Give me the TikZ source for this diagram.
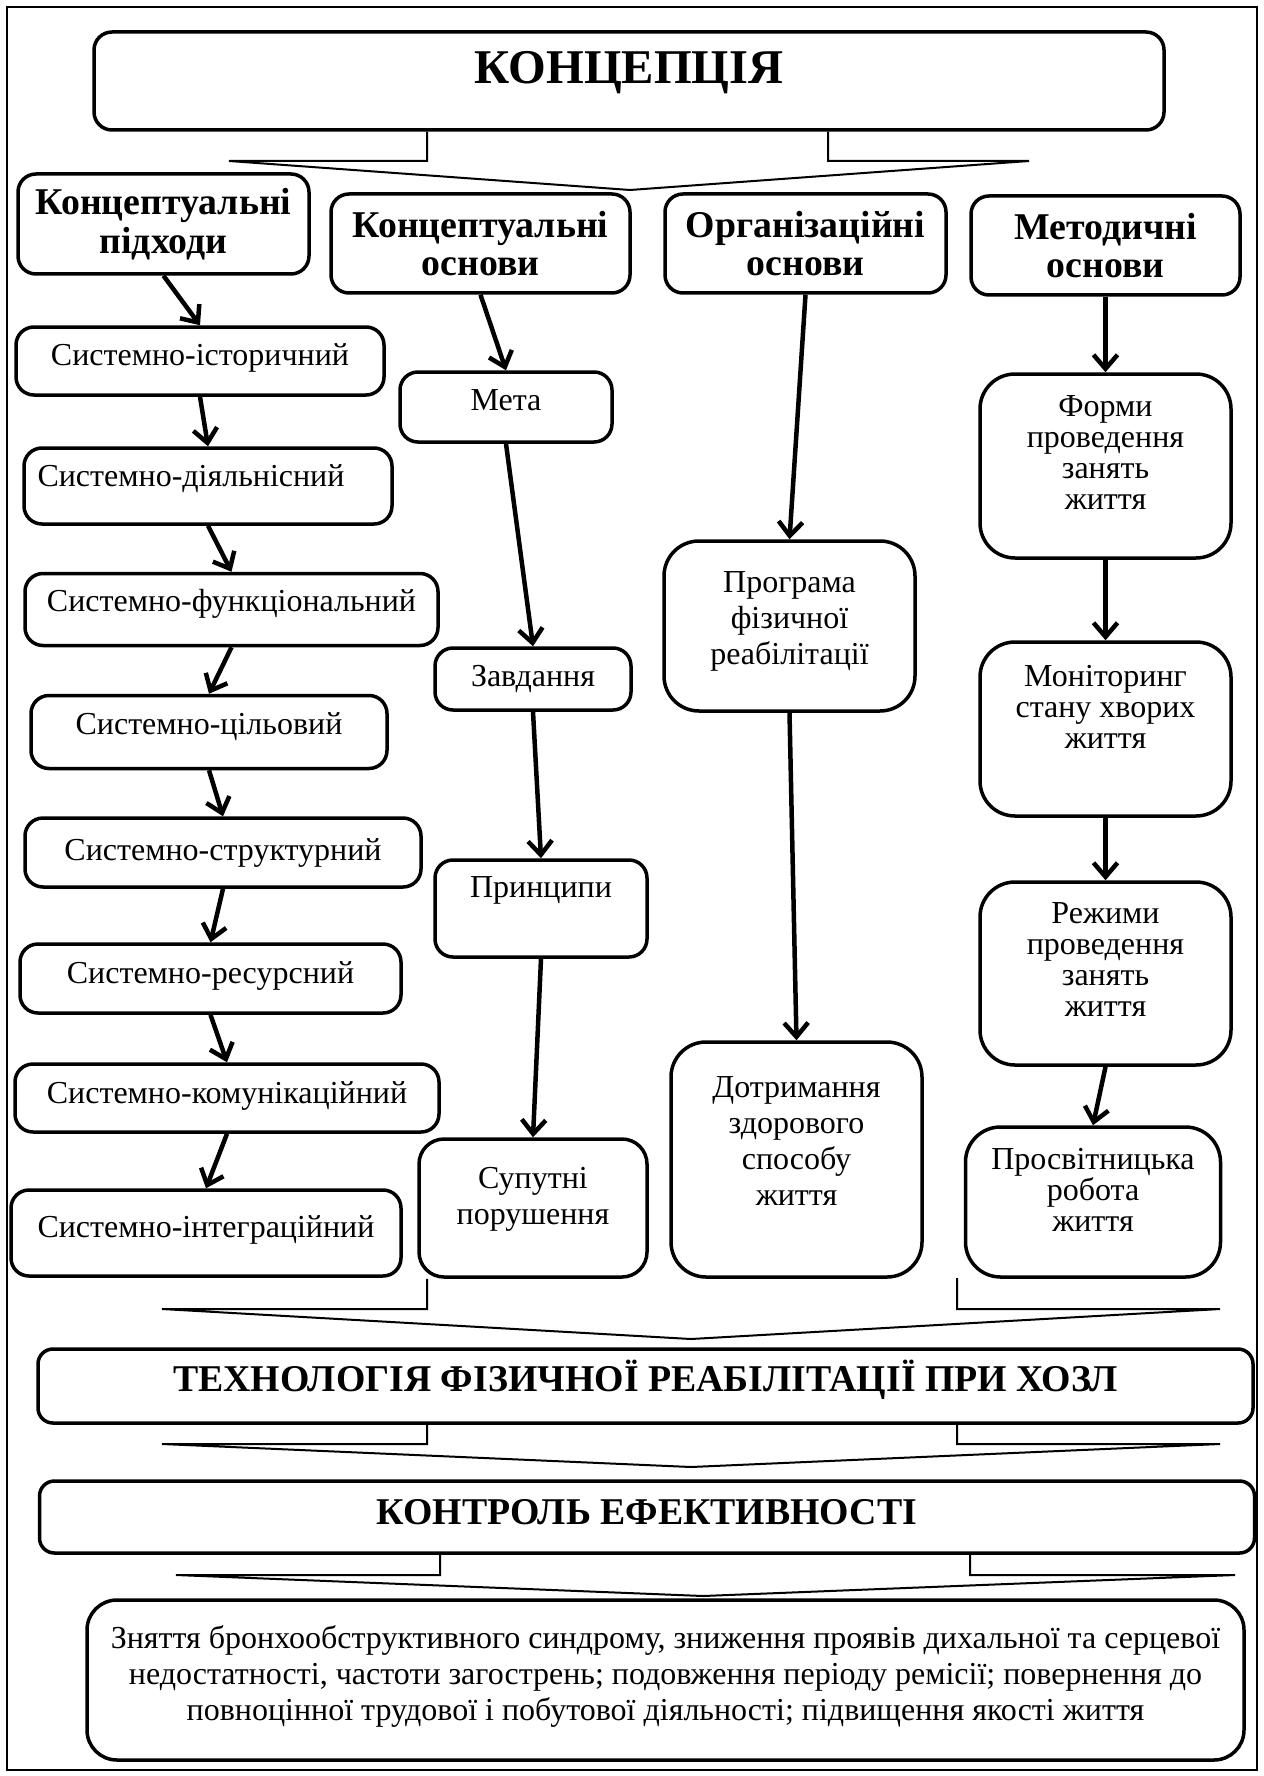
\documentclass[tikz,border=0pt]{standalone}
\usepackage{fontspec}
\setmainfont{Liberation Serif}
\usepackage{tikz}
\usetikzlibrary{arrows.meta,calc}
\tikzset{
  blk/.style={draw,line width=3.5pt,rounded corners=18pt,align=center,
    inner sep=0pt,font=\fontsize{32}{31}\selectfont},
  hdr/.style={blk,font=\bfseries\fontsize{37.8}{38.5}\selectfont},
  tall/.style={rounded corners=35pt},
  sz/.style 2 args={minimum width=#1pt,minimum height=#2pt},
  arr/.style={line width=4.5pt,-{Straight Barb[length=14pt,width=24pt]}},
  wide/.style={line width=2pt}
}

\begin{document}
\begin{tikzpicture}[x=1pt,y=-1pt]
\useasboundingbox (0,0) rectangle (1263,1776);
\draw[line width=1.5pt] (7,7) rectangle (1257,1770);
\node[hdr,sz={1070}{98},font=\bfseries\fontsize{48.5}{48}\selectfont] (concept) at (629,81) {КОНЦЕПЦІЯ\\[-20pt]};
\draw[wide] (427,0 |- concept.south) -- (427,161) -- (229,161) -- (630,190)
  -- (1029,161) -- (828,161) -- (828,0 |- concept.south);
\node[hdr,sz={291}{100}] (hdr1) at (163.5,224) {Концептуальні\\підходи};
\node[hdr,sz={299}{99}] (hdr2) at (480.5,243.5) {Концептуальні\\основи};
\node[hdr,sz={281}{99}] (hdr3) at (805.5,243.5) {Організаційні\\основи};
\node[hdr,sz={269}{99}] (hdr4) at (1105.5,245.5) {Методичні\\основи};
\node[blk,sz={368}{68}] (ist) at (200,361) {Системно-історичний\\[-19pt]};
\node[blk,sz={368}{76}] (dial) at (208,486) {Системно-діяльнісний\hspace*{34pt}\\[-11pt]};
\node[blk,sz={413}{72}] (func) at (231.5,609.5) {Системно-функціональний\\[-13pt]};
\node[blk,sz={356}{73}] (cil) at (209,732) {Системно-цільовий\\[-15pt]};
\node[blk,sz={396}{69}] (str) at (223,852.5) {Системно-структурний\\[-25pt]};
\node[blk,sz={381}{69}] (res) at (210.5,978.5) {Системно-ресурсний\\[-19pt]};
\node[blk,sz={424}{68}] (kom) at (227,1098) {Системно-комунікаційний\\[-21pt]};
\node[blk,sz={390}{86}] (integr) at (206,1233) {Системно-інтеграційний\\[-19pt]};
\node[blk,sz={212}{70}] (meta) at (506,407) {Мета\\[-17pt]};
\node[blk,sz={196}{62}] (zavd) at (533,679) {Завдання\\[-25pt]};
\node[blk,sz={212}{97}] (prin) at (541,908.5) {Принципи\\[11pt]};
\node[blk,sz={228}{138},rounded corners=25pt,font=\fontsize{32}{36}\selectfont] (sup) at (533,1208) {Супутні\\порушення\\[-12pt]};
\node[blk,tall,sz={251}{170},font=\fontsize{32}{36}\selectfont] (prog) at (789.5,626) {Програма\\фізичної\\реабілітації\\[-20pt]};
\node[blk,tall,sz={251}{235},font=\fontsize{32}{36}\selectfont] (dotr) at (796.5,1159.5) {Дотримання\\здорового\\способу\\життя\\[0pt]};
\node[blk,tall,sz={251}{184}] (form) at (1105.5,466) {Форми\\проведення\\занять\\життя\\[-5pt]};
\node[blk,tall,sz={251}{174}] (mon) at (1105.5,729) {Моніторинг\\стану хворих\\життя\\[13pt]};
\node[blk,tall,sz={251}{183}] (rezh) at (1105.5,973.5) {Режими\\проведення\\занять\\життя\\[-3pt]};
\node[blk,tall,sz={255}{150}] (pros) at (1093,1202) {Просвітницька\\робота\\життя\\[-7pt]};
\draw[arr] (hdr1.south) -- (ist.north);
\draw[arr] (ist.south) -- (dial.north);
\draw[arr] (dial.south) -- (func.north);
\draw[arr] (func.south) -- (cil.north);
\draw[arr] (cil.south) -- (str.north);
\draw[arr] (str.south) -- (res.north);
\draw[arr] (res.south) -- (kom.north);
\draw[arr] (kom.south) -- (integr.north);
\draw[arr] (hdr2.south) -- (meta.north);
\draw[arr] (meta.south) -- (zavd.north);
\draw[arr] (zavd.south) -- (prin.north);
\draw[arr] (prin.south) -- (sup.north);
\draw[arr] (hdr3.south) -- (prog.north);
\draw[arr] (prog.south) -- (dotr.north);
\draw[arr] (hdr4.south) -- (form.north);
\draw[arr] (form.south) -- (mon.north);
\draw[arr] (mon.south) -- (rezh.north);
\draw[arr] (rezh.south) -- (pros.north);
\draw[wide] (427,0 |- sup.south) -- (427,1309) -- (162,1309) -- (691,1339)
  -- (1220,1309) -- (957,1309) -- (957,1278);
\node[hdr,sz={1215}{74},rounded corners=15pt] (tech) at (645.5,1386) {ТЕХНОЛОГІЯ ФІЗИЧНОЇ РЕАБІЛІТАЦІЇ ПРИ ХОЗЛ\\[-18.5pt]};
\draw[wide] (427,0 |- tech.south) -- (427,1444) -- (162,1444) -- (691,1467)
  -- (1220,1444) -- (957,1444) -- (957,0 |- tech.south);
\node[hdr,sz={1215}{72},rounded corners=15pt] (kontr) at (647,1517) {КОНТРОЛЬ ЕФЕКТИВНОСТІ\\[-28.5pt]};
\draw[wide] (440,0 |- kontr.south) -- (440,1575) -- (176,1575) -- (703,1596)
  -- (1235,1575) -- (970,1575) -- (970,0 |- kontr.south);
\node[blk,sz={1157}{160},rounded corners=30pt,font=\fontsize{32}{36}\selectfont] (result) at (665.5,1680) {Зняття бронхообструктивного синдрому, зниження проявів дихальної та серцевої\\недостатності, частоти загострень; подовження періоду ремісії; повернення до\\повноцінної трудової і побутової діяльності; підвищення якості життя\\[-22pt]};
\end{tikzpicture}
\end{document}
